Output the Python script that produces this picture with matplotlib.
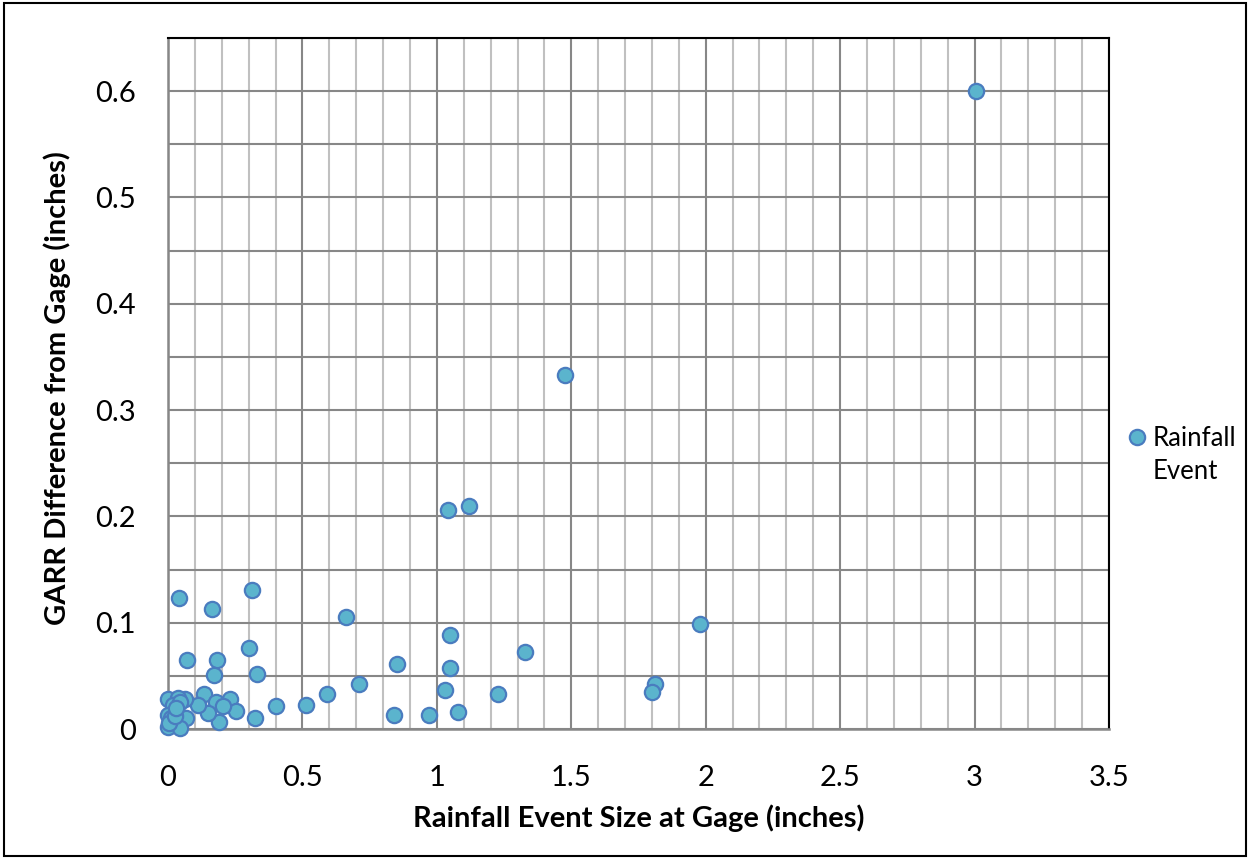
import matplotlib.pyplot as plt
from matplotlib.ticker import MultipleLocator

# rainfall event size at gage (inches)
event_size = [
    3.007, 1.476, 1.041, 1.119, 1.978, 0.311, 0.042, 0.162, 0.662, 1.048,
    0.301, 1.327, 0.072, 0.181, 0.851, 1.048, 0.331, 0.172, 0.710, 1.810,
    1.799, 1.030, 0.591, 1.227, 0.133, 0.401, 0.513, 0.840, 0.970, 1.078,
    0.322, 0.232, 0.252, 0.180, 0.203, 0.191, 0.149, 0.110, 0.068, 0.062,
    0.000, 0.037, 0.019, 0.000, 0.012, 0.000, 0.043, 0.045, 0.005, 0.025,
    0.030,
]
# GARR difference from gage (inches)
garr_diff = [
    0.600, 0.333, 0.206, 0.210, 0.099, 0.131, 0.123, 0.113, 0.105, 0.088,
    0.076, 0.072, 0.065, 0.065, 0.061, 0.057, 0.052, 0.051, 0.042, 0.042,
    0.035, 0.037, 0.033, 0.033, 0.033, 0.022, 0.023, 0.013, 0.013, 0.016,
    0.010, 0.028, 0.017, 0.025, 0.022, 0.007, 0.015, 0.023, 0.010, 0.028,
    0.028, 0.029, 0.023, 0.013, 0.010, 0.002, 0.001, 0.025, 0.006, 0.012,
    0.020,
]

plt.rcParams["font.family"] = ["Lato", "DejaVu Sans"]

fig = plt.figure(figsize=(12.5, 8.59), dpi=100)
ax = fig.add_axes([168 / 1250, 1 - 729 / 859, 941 / 1250, 691 / 859])

# grid: light minor verticals, darker majors
ax.set_xlim(0, 3.5)
ax.set_ylim(0, 0.65)
ax.xaxis.set_major_locator(MultipleLocator(0.5))
ax.xaxis.set_minor_locator(MultipleLocator(0.1))
ax.yaxis.set_major_locator(MultipleLocator(0.1))
ax.yaxis.set_minor_locator(MultipleLocator(0.05))
ax.grid(which="minor", axis="x", color="#c0c0c0", lw=1.5)
ax.grid(which="major", axis="x", color="#878787", lw=1.5)
ax.grid(which="both", axis="y", color="#878787", lw=1.5)
ax.set_axisbelow(True)

for s in ("left", "bottom"):
    ax.spines[s].set_color("#878787")
    ax.spines[s].set_linewidth(1.8)
for s in ("top", "right"):
    ax.spines[s].set_color("black")
    ax.spines[s].set_linewidth(1.5)

ax.plot(event_size, garr_diff, "o", ls="none", ms=11,
        mfc="#5BB4CD", mec="#4A7CBF", mew=1.6, label="Rainfall",
        clip_on=False, zorder=3)

ax.tick_params(which="both", length=0)
ax.tick_params(axis="x", labelsize=21, pad=26)
ax.tick_params(axis="y", labelsize=21, pad=23)
ax.set_xticks([0, 0.5, 1, 1.5, 2, 2.5, 3, 3.5])
ax.set_xticklabels(["0", "0.5", "1", "1.5", "2", "2.5", "3", "3.5"])
ax.set_yticks([0, 0.1, 0.2, 0.3, 0.4, 0.5, 0.6])
ax.set_yticklabels(["0", "0.1", "0.2", "0.3", "0.4", "0.5", "0.6"])

ax.set_xlabel("Rainfall Event Size at Gage (inches)", fontsize=21, fontweight="bold")
ax.set_ylabel("GARR Difference from Gage (inches)", fontsize=21, fontweight="bold")
ax.xaxis.set_label_coords(0.5, -0.129)
ax.xaxis.label.set_va("center")
ax.yaxis.set_label_coords(-0.118, 0.4935)
ax.yaxis.label.set_va("center")

leg = ax.legend(loc="center left", bbox_to_anchor=(1124 / 1250, 1 - 438 / 859),
                bbox_transform=fig.transFigure, frameon=False, fontsize=18.5,
                handletextpad=0.1, handlelength=1.0, borderpad=0, borderaxespad=0)
# second line of the legend label, wrapped like the original
fig.text(1153 / 1250, 1 - 479 / 859, "Event", fontsize=18.5, va="baseline", ha="left")

# outer chart border
fig.patches.append(plt.Rectangle((0.003, 0.003), 0.994, 0.994, transform=fig.transFigure,
                                 fill=False, ec="black", lw=1.5))

fig.savefig("out.png", dpi=100)
